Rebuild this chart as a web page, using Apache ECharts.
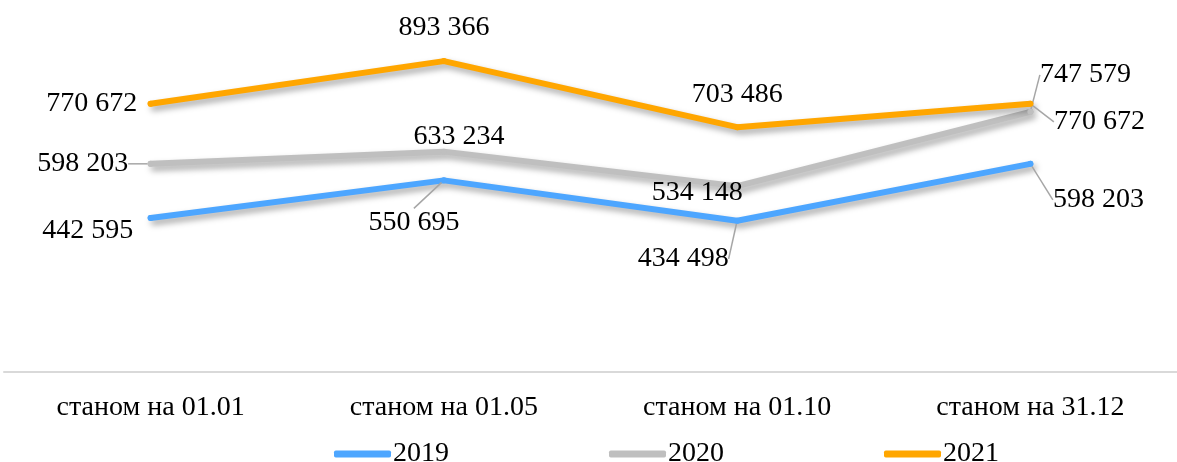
<!DOCTYPE html>
<html>
<head>
<meta charset="utf-8">
<script src="https://cdn.jsdelivr.net/npm/echarts@6/dist/echarts.min.js"></script>
<style>
html,body{margin:0;padding:0;background:#fff;}
#chart{width:1177px;height:462px;}
</style>
</head>
<body>
<div id="chart"></div>
<script>
var categories = ['станом на 01.01', 'станом на 01.05', 'станом на 01.10', 'станом на 31.12'];
var seriesNames = ['2019', '2020', '2021'];
var values2019 = [442595, 550695, 434498, 598203];
var values2020 = [598203, 633234, 534148, 747579];
var values2021 = [770672, 893366, 703486, 770672];

var colors = ['#4da6ff', '#bfbfbf', '#ffa600'];
// label offsets (dx, dy) from each point, and whether a leader line is drawn
var labelOffsets = [
  [[-63, 13], [-30, 42], [-54, 38], [68, 36]],
  [[-68, 0], [15, -15], [-40, 7], [55, -37]],
  [[-59, 0], [0, -33], [0, -33], [69, 18]]
];
var leaders = [
  [false, true, true, true],
  [true, false, false, true],
  [false, false, false, true]
];

function fmt(v) {
  return String(v).replace(/\B(?=(\d{3})+(?!\d))/g, ' ');
}

var allValues = [values2019, values2020, values2021];
var FONT = 'Liberation Serif, Times New Roman, serif';

var series = allValues.map(function (vals, si) {
  return {
    name: seriesNames[si],
    type: 'line',
    data: vals.map(function (v, di) {
      return {
        value: v,
        labelLine: {show: leaders[si][di]}
      };
    }),
    symbol: 'circle',
    symbolSize: 6,
    showSymbol: true,
    itemStyle: {color: colors[si]},
    lineStyle: {
      width: 6,
      color: colors[si],
      cap: 'round',
      join: 'round',
      shadowColor: 'rgba(0,0,0,0.35)',
      shadowBlur: 6,
      shadowOffsetX: 3,
      shadowOffsetY: 4
    },
    label: {
      show: true,
      position: 'inside',
      color: '#000',
      fontFamily: FONT,
      fontSize: 28,
      formatter: function (p) { return fmt(p.value); }
    },
    labelLine: {
      show: false,
      smooth: false,
      length2: 0,
      lineStyle: {color: '#a6a6a6', width: 1.5}
    },
    labelLayout: function (p) {
      var o = labelOffsets[si][p.dataIndex];
      return {dx: o[0], dy: o[1]};
    },
    emphasis: {disabled: true},
    animation: false
  };
});

var chart = echarts.init(document.getElementById('chart'));
chart.setOption({
  animation: false,
  backgroundColor: '#fff',
  grid: {left: 4, width: 1180, top: 24, bottom: 90},
  xAxis: {
    type: 'category',
    data: categories,
    boundaryGap: true,
    axisLine: {show: true, lineStyle: {color: '#d9d9d9', width: 2}},
    axisTick: {show: false},
    axisLabel: {color: '#000', fontFamily: FONT, fontSize: 28, margin: 22, interval: 0}
  },
  yAxis: {
    type: 'value',
    min: 0,
    max: 1000000,
    show: false,
    splitLine: {show: false}
  },
  legend: {
    data: seriesNames,
    left: 329,
    top: 434,
    itemWidth: 57,
    itemHeight: 7,
    itemGap: 160,
    icon: 'roundRect',
    textStyle: {color: '#000', fontFamily: FONT, fontSize: 28, lineHeight: 30, padding: [0, 0, 0, -3]}
  },
  series: series
});
</script>
</body>
</html>
